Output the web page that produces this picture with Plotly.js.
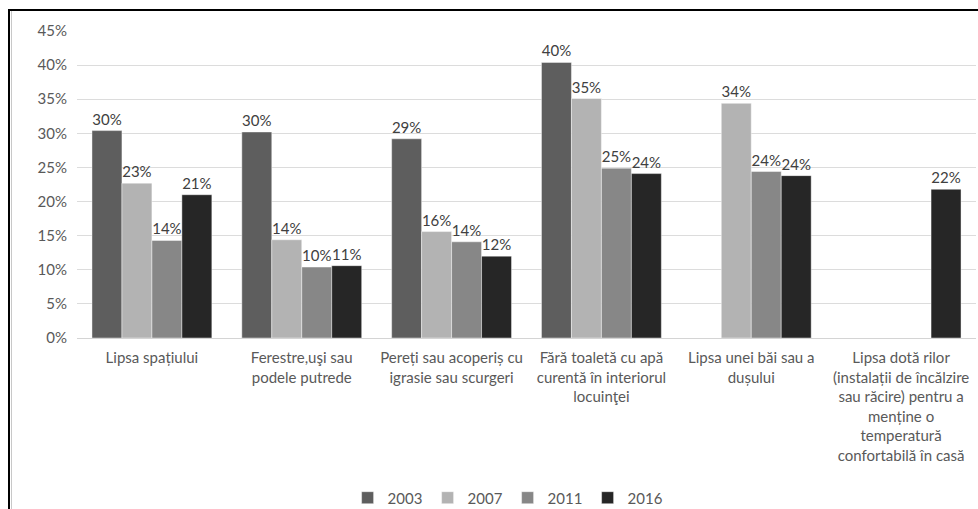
<!DOCTYPE html>
<html>
<head>
<meta charset="utf-8">
<script src="https://cdn.plot.ly/plotly-3.0.1.min.js"></script>
<style>
  html, body { margin: 0; padding: 0; background: #fff; }
  #chart { position: absolute; left: 0; top: 0; width: 978px; height: 509px; }
  .frame-top { position: absolute; left: 8px; top: 9px; width: 970px; height: 2px; background: #000; pointer-events: none; }
  .frame-left { position: absolute; left: 8px; top: 9px; width: 2px; height: 500px; background: #000; pointer-events: none; }
  .frame-inner { position: absolute; left: 11px; top: 11px; width: 1px; height: 498px; background: #c8c8c8; pointer-events: none; }
</style>
</head>
<body>
<div id="chart"></div>
<div class="frame-top"></div>
<div class="frame-left"></div>
<div class="frame-inner"></div>
<script>
// Housing deprivation categories (share of population, by survey year)
const categories = [
  "Lipsa spațiului",
  "Ferestre,uşi sau<br>podele putrede",
  "Pereți sau acoperiș cu<br>igrasie sau scurgeri",
  "Fără toaletă cu apă<br>curentă în interiorul<br>locuinţei",
  "Lipsa unei băi sau a<br>dușului",
  "Lipsa dotă rilor<br>(instalații de încălzire<br>sau răcire) pentru a<br>menține o<br>temperatură<br>confortabilă în casă"
];

const years = ["2003", "2007", "2011", "2016"];

const values2003 = [0.304, 0.302, 0.292, 0.404, null, null];
const values2007 = [0.227, 0.144, 0.156, 0.351, 0.344, null];
const values2011 = [0.143, 0.104, 0.141, 0.249, 0.244, null];
const values2016 = [0.210, 0.106, 0.120, 0.241, 0.238, 0.218];

const yTickValues = [0, 0.05, 0.10, 0.15, 0.20, 0.25, 0.30, 0.35, 0.40, 0.45];
const yTickLabels = ["0%", "5%", "10%", "15%", "20%", "25%", "30%", "35%", "40%", "45%"];

const seriesValues = [values2003, values2007, values2011, values2016];
const seriesColors = ["#5e5e5e", "#b3b3b3", "#878787", "#262626"];

const FONT = "Lato, 'Open Sans', sans-serif";

const traces = years.map((yr, i) => ({
  type: "bar",
  name: yr,
  x: categories,
  y: seriesValues[i],
  marker: { color: seriesColors[i], line: { color: "rgba(255,255,255,0.55)", width: 0.8 } },
  texttemplate: "%{y:.0%}",
  textposition: "outside",
  textfont: { family: FONT, size: 15, color: "#404040" },
  cliponaxis: false,
  hoverinfo: "skip"
}));

const layout = {
  width: 978,
  height: 509,
  margin: { l: 77, r: 2, t: 31, b: 171, autoexpand: false },
  paper_bgcolor: "#ffffff",
  plot_bgcolor: "#ffffff",
  barmode: "group",
  bargap: 0.2,
  bargroupgap: 0,
  font: { family: FONT, size: 15, color: "#595959" },
  xaxis: {
    type: "category",
    tickangle: 0,
    showgrid: false,
    showline: false,
    zeroline: false,
    ticks: "",
    ticklabelstandoff: 9,
    automargin: false,
    tickfont: { family: FONT, size: 15, color: "#595959" }
  },
  yaxis: {
    range: [0, 0.45],
    tickvals: yTickValues,
    ticktext: yTickLabels,
    showgrid: true,
    gridcolor: "#dcdcdc",
    gridwidth: 1,
    zeroline: true,
    zerolinecolor: "#d4d4d4",
    zerolinewidth: 1,
    showline: false,
    ticks: "",
    ticklabelstandoff: 9,
    automargin: false,
    tickfont: { family: FONT, size: 15, color: "#595959" }
  },
  legend: {
    orientation: "h",
    x: 0.301,
    xanchor: "left",
    y: -0.521,
    yanchor: "middle",
    entrywidth: 35,
    entrywidthmode: "pixels",
    font: { family: FONT, size: 15, color: "#595959" },
    itemclick: false,
    itemdoubleclick: false
  },
  showlegend: true
};

Plotly.newPlot("chart", traces, layout, { staticPlot: true, displayModeBar: false });
</script>
</body>
</html>
